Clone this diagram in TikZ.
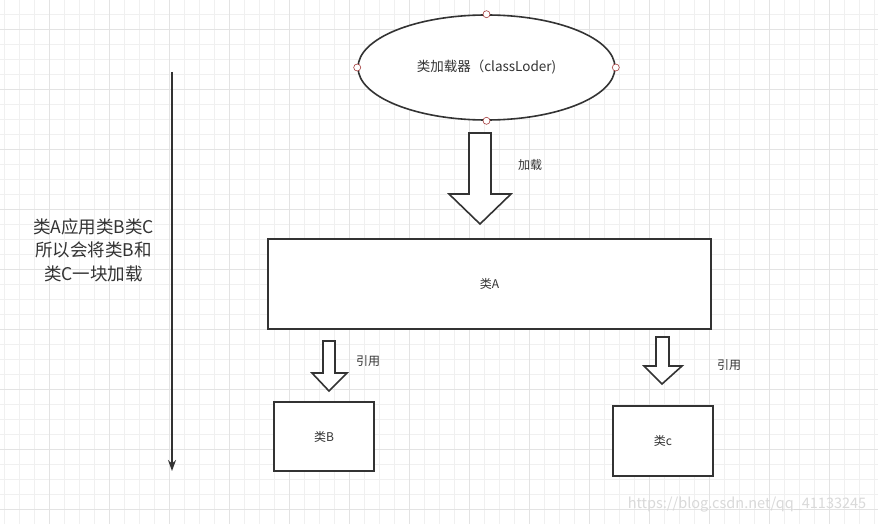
\documentclass[tikz,border=0pt]{standalone}
\usepackage{fontspec}
\setmainfont{Noto Sans CJK SC}
\usetikzlibrary{arrows.meta,shapes.geometric}

\definecolor{gridminor}{HTML}{F0F0F0}
\definecolor{gridmajor}{HTML}{E3E3E3}
\definecolor{ink}{HTML}{333333}
\definecolor{portred}{HTML}{A33B3B}

\begin{document}
\begin{tikzpicture}[
  x=1pt, y=-1pt,
  >={Stealth[length=11pt, width=8pt]},
  classbox/.style={rectangle, draw=ink, line width=1.6pt, fill=white, inner sep=0pt, text=ink, font=\fontsize{12}{14}\selectfont},
  loader/.style={ellipse, draw=ink, line width=1.6pt, fill=white, inner sep=0pt, minimum width=257pt, minimum height=105pt, text=ink, font=\fontsize{13.5}{16}\selectfont},
  port/.style={circle, draw=portred, fill=white, line width=0.6pt, inner sep=0pt, minimum size=7pt},
  blockarrow/.style={draw=ink, line width=1.6pt, fill=white, line join=miter},
  label/.style={text=ink, font=\fontsize{12}{14}\selectfont},
  note/.style={text=ink, align=center, font=\fontsize{17.5}{23.5}\selectfont},
]
  \useasboundingbox (0,0) rectangle (878,524);
  \fill[white] (0,0) rectangle (878,524);

  % Grid
  \foreach \gx in {4,19,...,878} \draw[gridminor, line width=0.8pt] (\gx,0) -- (\gx,524);
  \foreach \gy in {14.3,29.3,...,524} \draw[gridminor, line width=0.8pt] (0,\gy) -- (878,\gy);
  \foreach \gx in {49,109,...,878} \draw[gridmajor, line width=0.8pt] (\gx,0) -- (\gx,524);
  \foreach \gy in {29.3,89.3,...,524} \draw[gridmajor, line width=0.8pt] (0,\gy) -- (878,\gy);

  % Class loader
  \node[loader] (loader) at (486.5,67.5) {类加载器（classLoder)};
  \foreach \side in {north,south,east,west}
    \node[port] at (loader.\side) {};

  % Classes
  \node[classbox, minimum width=443pt, minimum height=90pt] (classA) at (489.5,284) {类A};
  \node[classbox, minimum width=100pt, minimum height=69pt] (classB) at (324,436.5) {类B};
  \node[classbox, minimum width=100pt, minimum height=70pt] (classC) at (663,441) {类c};

  % Block arrows
  \draw[blockarrow] (469,133) -- (491,133) -- (491,194) -- (511,194) -- (480,224)
    -- (449,194) -- (469,194) -- cycle;
  \node[label] (loadtxt) at (530,165) {加载};

  \draw[blockarrow] (323,341) -- (335,341) -- (335,373) -- (347,373) -- (329,391)
    -- (312,373) -- (323,373) -- cycle;
  \node[label] (refB) at (368,361) {引用};

  \draw[blockarrow] (656,337) -- (669,337) -- (669,366) -- (682,366) -- (662,384)
    -- (644,366) -- (656,366) -- cycle;
  \node[label] (refC) at (729,365) {引用};

  % Load order
  \coordinate (orderTop) at (172,72);
  \coordinate (orderEnd) at (172,471);
  \draw[->, ink, line width=1.8pt] (orderTop) -- (orderEnd);
  \node[note] (why) at (93.5,250) {类A应用类B类C\\所以会将类B和\\类C一块加载};

  % Watermark
  \node[text=black!15, font=\fontsize{14.5}{16}\selectfont] (mark) at (747,505) {https://blog.csdn.net/qq\textunderscore 41133245};
\end{tikzpicture}
\end{document}
